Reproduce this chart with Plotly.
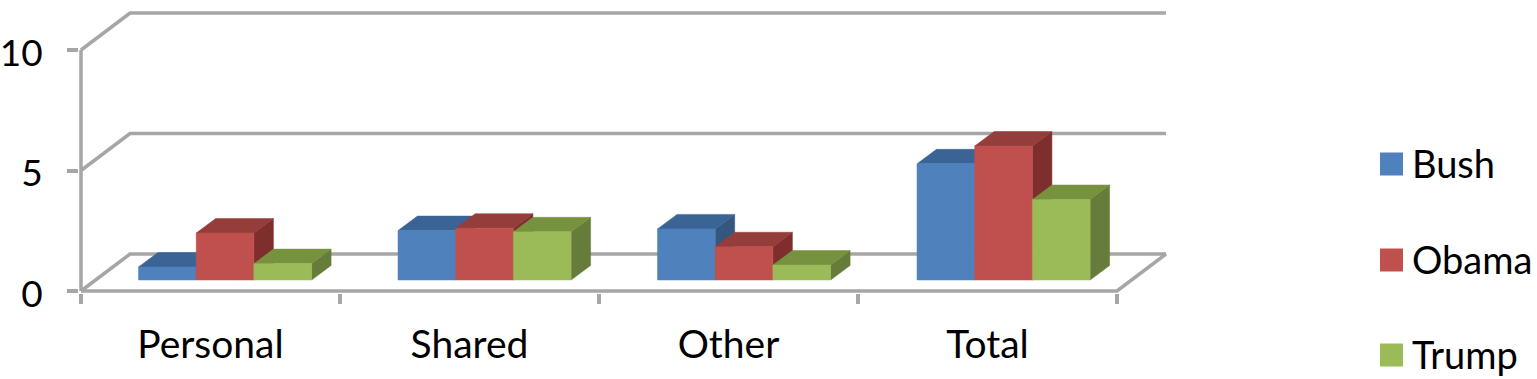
import plotly.graph_objects as go

categories = ["Personal", "Shared", "Other", "Total"]
bush = [0.54, 2.05, 2.12, 4.82]
obama = [1.95, 2.15, 1.38, 5.56]
trump = [0.68, 2.0, 0.62, 3.34]
series_names = ["Bush", "Obama", "Trump"]
y_ticks = [0, 5, 10]

front_colors = ["#4f81bd", "#c0504d", "#9bbb59"]
top_colors = ["#3b6496", "#953d3b", "#76923f"]
side_colors = ["#34577f", "#7e2f2d", "#667c3a"]
GRID = "#a6a6a6"
FONT = "Lato"
LW = 3.5

# pixel scales of the pseudo-3D projection
PX_LEFT, PX_ZERO = 81, 291
PLOT_L, PLOT_R, PLOT_T, PLOT_B = 79, 1170, 8, 293
PX_PER_CAT = (1117 - 81) / 4
PX_PER_UNIT = 24.1
DEPTH_X = 49 / PX_PER_CAT          # back wall offset
DEPTH_Y = 37 / PX_PER_UNIT
BAR_W = 57.7 / PX_PER_CAT
BAR_DX = 19.5 / PX_PER_CAT         # bar depth
BAR_DY = 14.5 / PX_PER_UNIT
BAR_BASE = 11 / PX_PER_UNIT
BAR_START = (138.5 - 81) / PX_PER_CAT
BAR_PITCH = 259.5 / PX_PER_CAT


def to_x(px):
    return (px - PX_LEFT) / PX_PER_CAT


def to_y(px):
    return (PX_ZERO - px) / PX_PER_UNIT


def paper_x(px):
    return (px - PLOT_L) / (PLOT_R - PLOT_L)


def paper_y(px):
    return (PLOT_B - px) / (PLOT_B - PLOT_T)


def polys(shapes):
    xs, ys = [], []
    for pts in shapes:
        xs += [p[0] for p in pts] + [pts[0][0], None]
        ys += [p[1] for p in pts] + [pts[0][1], None]
    return xs, ys


fig = go.Figure()


def line(xs, ys):
    fig.add_trace(go.Scatter(x=xs, y=ys, mode="lines", showlegend=False, hoverinfo="skip",
                             line=dict(color=GRID, width=LW)))


# back wall grid, side wall and floor
for t in y_ticks:
    line([0, DEPTH_X, 4 + DEPTH_X], [t, t + DEPTH_Y, t + DEPTH_Y])
line([0, 0], [0, y_ticks[-1]])
line([0, 4, 4 + DEPTH_X], [0, 0, DEPTH_Y])

# boxes, painted left to right: side, top, front
for s, (name, vals) in enumerate(zip(series_names, [bush, obama, trump])):
    fronts, tops, sides = [], [], []
    for c, v in enumerate(vals):
        x0 = c * BAR_PITCH + BAR_START + s * BAR_W
        x1 = x0 + BAR_W
        b, h = BAR_BASE, BAR_BASE + v
        fronts.append([(x0, b), (x1, b), (x1, h), (x0, h)])
        tops.append([(x0, h), (x1, h), (x1 + BAR_DX, h + BAR_DY), (x0 + BAR_DX, h + BAR_DY)])
        sides.append([(x1, b), (x1 + BAR_DX, b + BAR_DY), (x1 + BAR_DX, h + BAR_DY), (x1, h)])
    for pts, col, nm in [(sides, side_colors[s], name + " side"),
                         (tops, top_colors[s], name + " top"),
                         (fronts, front_colors[s], name)]:
        xs, ys = polys(pts)
        fig.add_trace(go.Scatter(x=xs, y=ys, mode="lines", fill="toself", fillcolor=col, name=nm,
                                 line=dict(color=col, width=0.5), showlegend=False))

# legend
for name, col, py in zip(series_names, front_colors, [164, 260, 355]):
    fig.add_shape(type="rect", xref="paper", yref="paper", line_width=0, fillcolor=col,
                  x0=paper_x(1380), x1=paper_x(1403), y0=paper_y(py + 11.5), y1=paper_y(py - 11.5))
    fig.add_annotation(xref="paper", yref="paper", x=paper_x(1410), y=paper_y(py - 1.5), text=name, showarrow=False,
                       xanchor="left", yanchor="middle", font=dict(family=FONT, size=38, color="black"))

fig.update_layout(
    width=1537, height=379,
    margin=dict(l=PLOT_L, r=1537 - PLOT_R, t=PLOT_T, b=379 - PLOT_B, autoexpand=False),
    paper_bgcolor="white", plot_bgcolor="white",
    showlegend=False,
    xaxis=dict(range=[to_x(PLOT_L), to_x(PLOT_R)], showgrid=False, zeroline=False, showline=False,
               tickmode="array", tickvals=[i + 0.5 for i in range(len(categories))], ticktext=categories,
               ticks="outside", ticklen=1, tickcolor="rgba(0,0,0,0)", ticklabelstandoff=16,
               tickfont=dict(family=FONT, size=39, color="black"),
               minor=dict(tickmode="array", tickvals=list(range(len(categories) + 1)), ticks="outside",
                          ticklen=10, tickwidth=LW, tickcolor=GRID)),
    yaxis=dict(range=[to_y(PLOT_B), to_y(PLOT_T)], showgrid=False, zeroline=False, showline=False,
               tickmode="array", tickvals=y_ticks, ticktext=[str(t) for t in y_ticks],
               ticks="outside", ticklen=11, tickwidth=LW, tickcolor=GRID, ticklabelstandoff=17,
               ticklabelshift=3,
               tickfont=dict(family=FONT, size=37, color="black")),
)

fig.write_html("out.html", post_script="document.body.style.margin='0';", config={"displayModeBar": False})
